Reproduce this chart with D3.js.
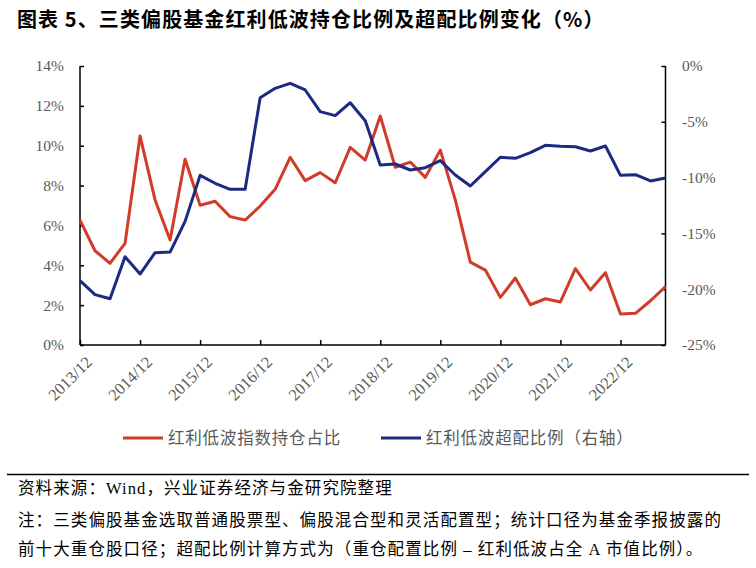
<!DOCTYPE html>
<html><head><meta charset="utf-8">
<script src="https://cdn.jsdelivr.net/npm/d3@7"></script>
<style>
html,body{margin:0;padding:0;background:#fff;}
svg{display:block;font-family:"Liberation Serif","Noto Sans CJK SC",serif;}
</style></head><body>
<svg id="c" width="756" height="568"></svg>
<script>
const dates = ["2013/12","2014/03","2014/06","2014/09","2014/12","2015/03","2015/06","2015/09","2015/12","2016/03",
"2016/06","2016/09","2016/12","2017/03","2017/06","2017/09","2017/12","2018/03","2018/06","2018/09",
"2018/12","2019/03","2019/06","2019/09","2019/12","2020/03","2020/06","2020/09","2020/12","2021/03",
"2021/06","2021/09","2021/12","2022/03","2022/06","2022/09","2022/12","2023/03","2023/06","2023/09"];
// 红利低波指数持仓占比 (%), left axis
const holding = [6.27,4.73,4.10,5.10,10.49,7.28,5.27,9.32,7.01,7.21,
6.44,6.27,6.97,7.81,9.42,8.25,8.65,8.14,9.92,9.28,
11.49,8.92,9.18,8.41,9.78,7.28,4.16,3.76,2.39,3.36,
2.02,2.32,2.16,3.83,2.76,3.63,1.56,1.59,2.22,2.93];
// 红利低波超配比例 (%), right axis
const overweight = [-19.23,-20.49,-20.85,-17.09,-18.64,-16.73,-16.67,-13.92,-9.80,-10.51,
-11.05,-11.05,-2.84,-2.00,-1.55,-2.15,-4.09,-4.45,-3.29,-4.90,
-8.87,-8.78,-9.32,-9.11,-8.48,-9.77,-10.75,-9.47,-8.18,-8.27,
-7.77,-7.11,-7.20,-7.23,-7.62,-7.17,-9.80,-9.74,-10.30,-10.04];
const leftTicks = [0,2,4,6,8,10,12,14];
const rightTicks = [0,-5,-10,-15,-20,-25];
const xTickLabels = ["2013/12","2014/12","2015/12","2016/12","2017/12","2018/12","2019/12","2020/12","2021/12","2022/12"];
const seriesNames = ["红利低波指数持仓占比","红利低波超配比例（右轴）"];
const colors = ["#D03C2A","#1C2A82"];
const titleText = "图表 5、三类偏股基金红利低波持仓比例及超配比例变化（%）";
const sourceText = "资料来源：Wind，兴业证券经济与金研究院整理";
const noteLines = ["注：三类偏股基金选取普通股票型、偏股混合型和灵活配置型；统计口径为基金季报披露的",
"前十大重仓股口径；超配比例计算方式为（重仓配置比例 – 红利低波占全 A 市值比例）。"];

const svg = d3.select("#c");
const L=80, R=665.5, T=66, B=345;
const x = d3.scalePoint().domain(dates).range([L, R]);
const yL = d3.scaleLinear().domain([0,14]).range([B,T]);
const yR = d3.scaleLinear().domain([-25,0]).range([B,T]);
const gray = "#595959";

// title
svg.append("text").attr("x",17).attr("y",27).attr("font-family","'Noto Sans CJK SC',sans-serif")
  .attr("font-weight","bold").attr("font-size",20).attr("letter-spacing",1.1).attr("fill","#000").text(titleText);

// axes
const axL = svg.append("g").attr("transform",`translate(${L},0)`)
  .call(d3.axisRight(yL).tickValues(leftTicks).tickSize(4));
axL.selectAll("text").remove();
svg.append("g").selectAll("text").data(leftTicks).join("text")
  .attr("x",64).attr("y",d=>yL(d)).attr("dy","0.35em").attr("text-anchor","end")
  .attr("font-size",15.5).attr("fill",gray).text(d=>d+"%");

const axR = svg.append("g").attr("transform",`translate(${R},0)`)
  .call(d3.axisLeft(yR).tickValues(rightTicks).tickSize(4));
axR.selectAll("text").remove();
svg.append("g").selectAll("text").data(rightTicks).join("text")
  .attr("x",682).attr("y",d=>yR(d)).attr("dy","0.35em").attr("text-anchor","start")
  .attr("font-size",15.5).attr("fill",gray).text(d=>d+"%");

const axB = svg.append("g").attr("transform",`translate(0,${B})`)
  .call(d3.axisTop(x).tickValues(xTickLabels).tickSize(5));
axB.selectAll("text").remove();
axB.select(".domain").attr("d",`M${L},0H${R}`);
[axL,axR,axB].forEach(a=>{a.selectAll("path,line").attr("stroke","#000").attr("stroke-width",1.5);});
axL.select(".domain").attr("d",`M0,${B}V${T}`);
axR.select(".domain").attr("d",`M0,${B}V${T}`);
svg.append("g").selectAll("text").data(xTickLabels).join("text")
  .attr("transform",d=>`translate(${x(d)+5},${B+10}) rotate(-45)`)
  .attr("text-anchor","end").attr("dy","0.7em").attr("font-size",16.5).attr("fill",gray).text(d=>d);

// lines
const lineL = d3.line().x((d,i)=>x(dates[i])).y(d=>yL(d));
const lineR = d3.line().x((d,i)=>x(dates[i])).y(d=>yR(d));
svg.append("path").datum(holding).attr("d",lineL).attr("fill","none")
  .attr("stroke",colors[0]).attr("stroke-width",3).attr("stroke-linejoin","round");
svg.append("path").datum(overweight).attr("d",lineR).attr("fill","none")
  .attr("stroke",colors[1]).attr("stroke-width",3).attr("stroke-linejoin","round");

// legend
const legX = [123, 381];
seriesNames.forEach((n,i)=>{
  svg.append("line").attr("x1",legX[i]).attr("x2",legX[i]+40).attr("y1",438).attr("y2",438)
    .attr("stroke",colors[i]).attr("stroke-width",3);
  svg.append("text").attr("x",legX[i]+45).attr("y",438).attr("dy","0.36em")
    .attr("font-family","'Noto Sans CJK SC',sans-serif").attr("font-size",16.5).attr("letter-spacing",0.8)
    .attr("fill",gray).text(n);
});

// footer
svg.append("line").attr("x1",7).attr("x2",749).attr("y1",474.5).attr("y2",474.5).attr("stroke","#000").attr("stroke-width",1.5);
svg.append("text").attr("x",18).attr("y",488).attr("dy","0.36em").attr("font-size",16.5).attr("letter-spacing",1.1)
  .attr("fill","#000").text(sourceText);
noteLines.forEach((t,i)=>{
  svg.append("text").attr("x",18).attr("y",520+i*29).attr("dy","0.36em").attr("font-size",16.5)
    .attr("letter-spacing",1.1).attr("fill","#000").text(t);
});
</script></body></html>
